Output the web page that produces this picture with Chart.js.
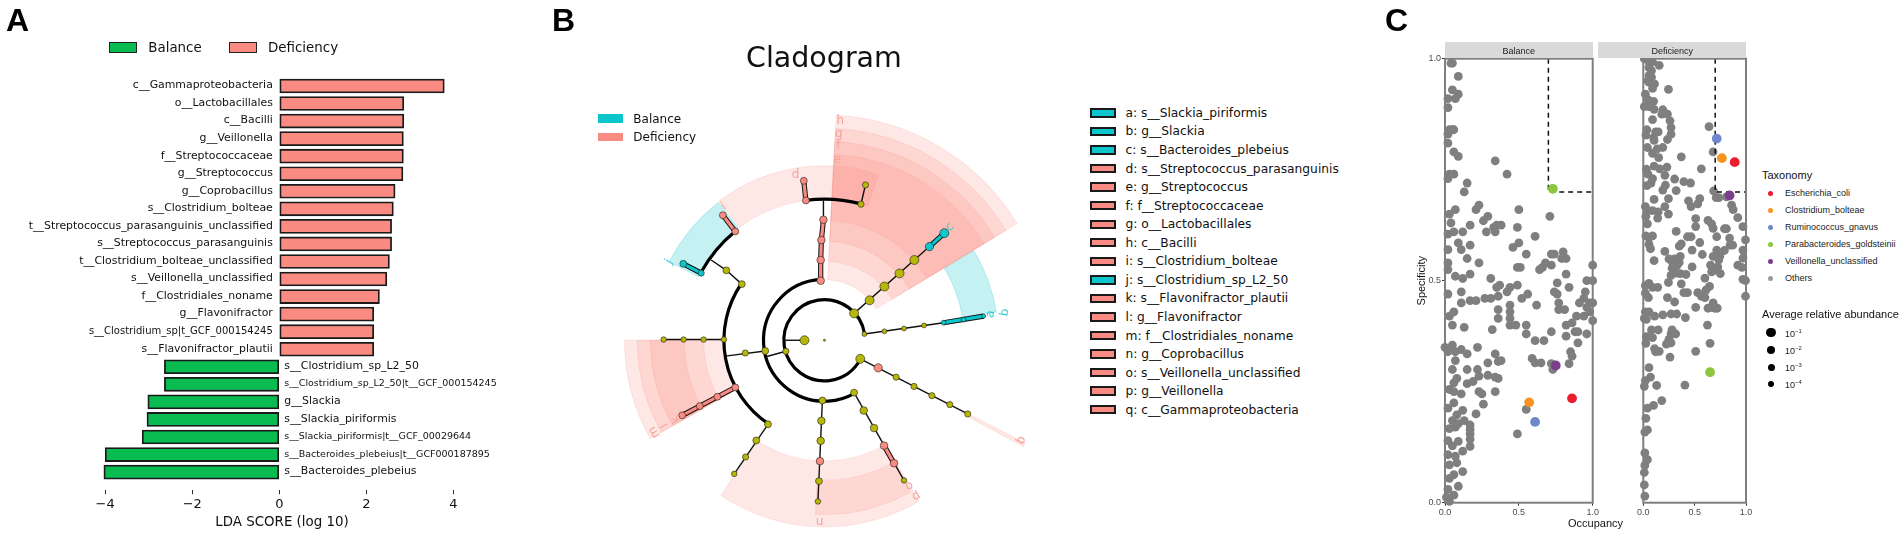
<!DOCTYPE html>
<html><head><meta charset="utf-8">
<script src="https://cdn.jsdelivr.net/npm/chart.js@4"></script>
<style>
html,body{margin:0;padding:0;background:#fff;width:1902px;height:540px;overflow:hidden}
canvas{position:absolute}
.t{position:absolute;white-space:nowrap;transform:translateY(-50%);color:#111}
.dj{font-family:"DejaVu Sans"}
.ls{font-family:"Liberation Sans"}
.panel{font:bold 32px "Liberation Sans";color:#000}
.box{position:absolute}
sup{font-size:65%;line-height:0;vertical-align:super}
</style></head><body>
<canvas id="a" width="564" height="540" style="left:0;top:0;width:564px;height:540px"></canvas>
<canvas id="b" width="540" height="540" style="left:540px;top:0;width:540px;height:540px"></canvas>
<canvas id="c1" width="200" height="540" style="left:1400px;top:0;width:200px;height:540px"></canvas>
<canvas id="c2" width="170" height="540" style="left:1590px;top:0;width:170px;height:540px"></canvas>
<div id="html"></div>
<script>
// ---------- Panel A data ----------
const deficiencyLabels = ["c__Gammaproteobacteria","o__Lactobacillales","c__Bacilli","g__Veillonella","f__Streptococcaceae","g__Streptococcus","g__Coprobacillus","s__Clostridium_bolteae","t__Streptococcus_parasanguinis_unclassified","s__Streptococcus_parasanguinis","t__Clostridium_bolteae_unclassified","s__Veillonella_unclassified","f__Clostridiales_noname","g__Flavonifractor","s__Clostridium_sp|t_GCF_000154245","s__Flavonifractor_plautii"];
const deficiencyScores = [3.79,2.86,2.86,2.85,2.85,2.84,2.66,2.62,2.58,2.58,2.53,2.47,2.30,2.17,2.17,2.17];
const balanceLabels = ["s__Clostridium_sp_L2_50","s__Clostridium_sp_L2_50|t__GCF_000154245","g__Slackia","s__Slackia_piriformis","s__Slackia_piriformis|t__GCF_00029644","s__Bacteroides_plebeius|t__GCF000187895","s__Bacteroides_plebeius"];
const balanceScores = [-2.64,-2.64,-3.02,-3.04,-3.15,-4.0,-4.03];
const ldaTicks = [-4,-2,0,2,4];

// ---------- Panel B data (cladogram read-off coordinates) ----------
const cladeCentre = [826,988];
const nodesNeutral = [[826,988,3],[768,988,13],[714,1020,9],[654,1019,10],[596,1025,9],[534,986,8],[475,986,8],[417,986,8],[359,986,8],[942,970,7],[1000,962,7],[1057,954,7],[1115,945,7],[912,910,13],[957,872,13],[1000,832,13],[1044,794,13],[1087,755,13],[930,1042,13],[1034,1095,9],[1086,1122,9],[1138,1149,9],[1190,1175,9],[1242,1202,9],[912,1140,10],[940,1192,11],[970,1243,11],[1057,1395,8],[820,1163,10],[817,1222,11],[815,1280,11],[810,1397,10],[807,1456,8],[662,1232,10],[628,1279,10],[597,1327,9],[564,1376,8],[586,825,10],[541,785,10],[932,593,9],[945,537,9]];
const nodesDeficiency = [[982,1068,12],[999,1294,11],[1028,1345,11],[813,1339,11],[815,815,11],[815,755,11],[817,697,11],[823,638,11],[772,582,10],[766,525,10],[567,672,10],[531,625,10],[567,1125,10],[515,1152,10],[464,1179,10],[413,1206,10]];
const nodesBalance = [[1172,937,7],[1230,928,7],[1288,918,6],[1131,716,12],[1174,677,13],[468,793,9],[416,766,10]];
const thinEdges = [[[768,988],[707,988]],[[714,1020],[656,1036]],[[654,1019],[538,1034]],[[534,986],[359,986]],[[942,970],[1172,937]],[[912,910],[1131,716]],[[930,1042],[1242,1202]],[[823,638],[823,582]],[[932,593],[945,537]],[[586,825],[541,785],[497,755]],[[912,1140],[1057,1395]],[[820,1163],[807,1456]],[[662,1232],[564,1376]]];
const deficiencyEdges = [[[815,815],[815,755],[817,697],[823,638]],[[772,582],[766,525]],[[567,672],[531,625]],[[567,1125],[413,1206]],[[999,1294],[1028,1345]]];
const balanceEdges = [[[1172,937],[1288,918]],[[1131,716],[1174,677]],[[468,793],[416,766]]];
const ringArcs = [[118,9,332],[177,93.6,299.5],[292,145.8,236],[410,75,97.6],[409,129.3,151.4]];
const balanceWedges = [[406,506,9.4,31],[410,505,127.5,153.2]];
const deficiencyWedges = [[176,654,31.2,87],[230,616,31.2,87],[288,578,31.2,87],[348,541,31.2,87],[410,507,72,127],[292,581,180,209.4],[351,544,180,209.4],[407,506,180,209.4],[351,542,236.3,300.4],[407,506,267,299.5],[478,655,331.9,332.9]];
const deficiencyLetters = [["h",872,350,0],["g",868,388,0],["f",866,425,0],["e",864,463,0],["d",742,508,0],["i",533,600,-35],["k",395,1217,-120],["l",362,1235,-120],["m",332,1255,-120],["n",812,1512,180],["o",1072,1410,150],["p",1092,1440,150],["q",1397,1278,120]];
const balanceLetters = [["a",1308,912,-80],["b",1350,907,-80],["c",1190,660,-45],["j",375,760,-60]];
const cladeKey = ["a: s__Slackia_piriformis","b: g__Slackia","c: s__Bacteroides_plebeius","d: s__Streptococcus_parasanguinis","e: g__Streptococcus","f: f__Streptococcaceae","g: o__Lactobacillales","h: c__Bacilli","i: s__Clostridium_bolteae","j: s__Clostridium_sp_L2_50","k: s__Flavonifractor_plautii","l: g__Flavonifractor","m: f__Clostridiales_noname","n: g__Coprobacillus","o: s__Veillonella_unclassified","p: g__Veillonella","q: c__Gammaproteobacteria"];
const cladeKeyBalance = ["a","b","c","j"];

// ---------- Panel C data: [occupancy, specificity] ----------
const balanceOthers = [[.04,.99],[.05,.99],[.09,.96],[.05,.93],[.09,.92],[.02,.91],[.07,.91],[.02,.89],[.05,.84],[.03,.84],[.06,.84],[.02,.83],[.02,.81],[.06,.79],[.09,.78],[.34,.77],[.42,.74],[.03,.74],[.06,.74],[.02,.73],[.15,.72],[.13,.70],[.23,.67],[.21,.66],[.07,.66],[.5,.66],[.03,.65],[.04,.63],[.29,.645],[.26,.635],[.71,.645],[.17,.625],[.12,.61],[.28,.61],[.33,.62],[.38,.625],[.35,.625],[.34,.61],[.49,.62],[.61,.60],[.02,.605],[.06,.61],[.09,.585],[.17,.58],[.11,.57],[.46,.575],[.5,.585],[.55,.56],[.72,.56],[.74,.56],[.8,.565],[.82,.55],[.79,.55],[.15,.55],[.23,.54],[.02,.54],[.02,.525],[.49,.53],[.51,.53],[.68,.54],[.66,.53],[.64,.525],[.72,.535],[1.0,.535],[.82,.515],[.07,.51],[.17,.515],[.12,.505],[.31,.505],[.37,.49],[.35,.485],[.49,.49],[.44,.485],[.42,.475],[.76,.495],[.84,.485],[.74,.475],[.76,.47],[.96,.50],[1.0,.5],[.11,.475],[.56,.47],[.52,.46],[.36,.465],[.31,.46],[.27,.46],[.21,.455],[.17,.455],[.11,.45],[.62,.445],[.44,.445],[.36,.435],[.77,.45],[.77,.435],[.81,.435],[.95,.475],[.94,.46],[.91,.45],[.98,.45],[1.0,.45],[.96,.44],[.98,.43],[.94,.42],[.89,.42],[.44,.43],[.36,.415],[.06,.43],[.03,.42],[.44,.415],[.05,.40],[.13,.395],[.44,.40],[.48,.40],[.55,.40],[.32,.39],[1.0,.41],[.86,.405],[.82,.40],[.55,.38],[.72,.385],[.88,.385],[.9,.385],[.96,.38],[.82,.375],[.67,.365],[.61,.365],[.9,.36],[.22,.35],[.05,.355],[0,.35],[.02,.34],[.07,.34],[.11,.345],[.15,.335],[.34,.335],[.85,.34],[.86,.33],[.59,.325],[.07,.32],[.38,.32],[.36,.318],[.29,.315],[.61,.315],[.65,.315],[.84,.313],[.72,.313],[.05,.3],[.15,.3],[.22,.3],[.73,.3],[.23,.285],[.29,.287],[.36,.28],[.34,.283],[.08,.28],[.06,.27],[.19,.273],[.15,.268],[.03,.255],[.11,.245],[.23,.25],[.25,.245],[.34,.25],[.06,.25],[.26,.222],[.06,.225],[.02,.213],[.55,.21],[.12,.208],[.08,.198],[.21,.20],[.05,.185],[.13,.185],[.09,.178],[.07,.17],[.03,.167],[.17,.175],[.17,.165],[.17,.155],[.49,.155],[.02,.14],[.09,.138],[.17,.143],[.05,.128],[.17,.127],[.12,.116],[.02,.108],[.07,.105],[.08,.09],[.03,.085],[.12,.07],[.06,.063],[.03,.055],[.09,.037],[.02,.03],[.06,.017],[.01,.012],[.03,.003],[.02,.57],[.02,.47]];
const deficiencyOthers = [[.01,1.0],[.055,.993],[.09,.993],[.155,.985],[.055,.98],[.08,.973],[.055,.962],[.08,.958],[.045,.95],[.11,.943],[.055,.947],[.09,.933],[.245,.931],[.02,.92],[.045,.908],[.1,.904],[.01,.892],[.055,.892],[.105,.886],[.19,.885],[.18,.875],[.235,.875],[.09,.863],[.26,.86],[.27,.845],[.64,.847],[.035,.84],[.12,.835],[.145,.835],[.025,.828],[.27,.83],[.1,.822],[.105,.816],[.235,.818],[.04,.80],[.19,.80],[.135,.797],[.09,.787],[.68,.79],[.15,.777],[.37,.779],[.03,.751],[.105,.758],[.16,.752],[.23,.756],[.565,.752],[.045,.74],[.21,.737],[.09,.73],[.305,.729],[.395,.723],[.075,.72],[.46,.72],[.215,.715],[.035,.714],[.19,.704],[.32,.703],[.685,.702],[.81,.689],[.71,.687],[.735,.687],[.105,.683],[.245,.685],[.55,.685],[.44,.68],[.53,.673],[.465,.667],[.86,.67],[.875,.66],[.02,.667],[.21,.667],[.045,.658],[.09,.658],[.145,.655],[.025,.645],[.245,.65],[.14,.641],[.92,.642],[.51,.64],[.63,.636],[.665,.628],[.04,.628],[.51,.622],[.97,.622],[.68,.618],[.32,.611],[.81,.617],[.79,.617],[.025,.601],[.09,.601],[.055,.597],[.43,.599],[.465,.599],[.715,.599],[.84,.596],[.995,.592],[.055,.582],[.37,.583],[.55,.586],[.35,.578],[.845,.58],[.87,.58],[.07,.572],[.475,.569],[.21,.566],[.715,.569],[.79,.568],[.97,.569],[.36,.555],[.575,.559],[.68,.555],[.25,.549],[.305,.549],[.745,.555],[.97,.551],[.105,.545],[.28,.543],[.35,.541],[.735,.547],[.33,.535],[.655,.535],[.475,.531],[.92,.535],[.96,.53],[.28,.528],[.725,.531],[.665,.52],[.7,.524],[.27,.512],[.325,.517],[.36,.516],[.415,.514],[.75,.516],[.6,.506],[.97,.503],[.995,.5],[.055,.494],[.02,.489],[.14,.485],[.09,.485],[.245,.496],[.37,.493],[.645,.487],[.61,.479],[.395,.473],[.43,.473],[.53,.473],[.565,.465],[.6,.462],[.995,.465],[.02,.472],[.05,.462],[.235,.462],[.305,.452],[.68,.45],[.51,.44],[.63,.438],[.66,.44],[.72,.438],[.695,.438],[.02,.43],[.055,.43],[.11,.42],[.19,.423],[.27,.425],[.325,.425],[.41,.417],[.01,.415],[.03,.413],[.625,.4],[.08,.389],[.145,.389],[.28,.389],[.315,.38],[.27,.38],[.03,.374],[.09,.372],[.25,.368],[.225,.357],[.27,.36],[.025,.359],[.65,.359],[.11,.347],[.155,.341],[.12,.34],[.51,.341],[.26,.328],[.055,.304],[.07,.283],[.02,.275],[.13,.264],[.405,.265],[.01,.262],[.18,.23],[.1,.219],[.04,.213],[.025,.19],[.04,.164],[.015,.159],[.015,.112],[.04,.097],[.015,.084],[.01,.068],[.01,.04],[.015,.015]];
const taxa = ["Escherichia_coli","Clostridium_bolteae","Ruminococcus_gnavus","Parabacteroides_goldsteinii","Veillonella_unclassified","Others"];
const taxaBalance = [[.86,.235],[.57,.226],[.61,.182],[.73,.707],[.75,.309]];
const taxaDeficiency = [[.89,.767],[.765,.776],[.715,.82],[.65,.294],[.84,.692]];
const occupancyCut = [[.7,1],[.7,.7],[1,.7]];
const abundanceTicks = ["-1","-2","-3","-4"];

// ---------- Styles ----------
const GREEN="#08BC52", SALMON="#FA8B82", CYAN="#0CC6CE", OLIVE="#B7B70A", GREY="#7F7F7F";
const TAXA_COLORS=["#EA1C2D","#F7931E","#6F88CC","#8CC63F","#7B3F8C"];
Chart.defaults.animation=false;
Chart.defaults.responsive=false;
Chart.defaults.plugins.legend.display=false;
Chart.defaults.plugins.tooltip.enabled=false;

// ---------- Panel A ----------
const nPos=deficiencyScores.length;
const barLabelPlugin={id:'barLabels',afterDatasetsDraw(ch){
  const c=ch.ctx,x=ch.scales.x,y=ch.scales.y;
  c.save();c.fillStyle="#111";c.textBaseline="middle";
  const draw=(s,i,px,al,f)=>{c.textAlign=al;c.font=f+' "DejaVu Sans"';c.fillText(s,px,y.getPixelForValue(i)-0.5);};
  deficiencyLabels.forEach((s,i)=>draw(s,i,x.getPixelForValue(0)-6.5,"right",s.includes("|")?"10px":"10.9px"));
  balanceLabels.forEach((s,i)=>draw(s,i+nPos,x.getPixelForValue(0)+5,"left",s.includes("|")?"9.5px":"10.9px"));
  c.restore();
}};
new Chart(document.getElementById('a'),{type:'bar',
 data:{labels:deficiencyLabels.concat(balanceLabels),datasets:[
  {label:"Deficiency",data:deficiencyScores.map((v,i)=>({x:v,y:i})),backgroundColor:SALMON,borderColor:"#1a1a1a",borderWidth:1.8,borderSkipped:false,barThickness:14,grouped:false},
  {label:"Balance",data:balanceScores.map((v,i)=>({x:v,y:i+nPos})),backgroundColor:GREEN,borderColor:"#1a1a1a",borderWidth:1.8,borderSkipped:false,barThickness:14,grouped:false}]},
 options:{indexAxis:'y',layout:{autoPadding:false,padding:{top:77.2,bottom:8,left:0,right:0}},
  scales:{
   y:{type:'linear',display:false,reverse:true,offset:false,grid:{offset:false},min:-.5,max:23.02},
   x:{type:'linear',min:-6.416,max:6.54,border:{display:false},
      afterBuildTicks(s){s.ticks=ldaTicks.map(v=>({value:v}));},
      afterFit(s){s.height=42;},
      grid:{drawOnChartArea:false,tickLength:4.3,tickColor:"#333",tickWidth:1},
      ticks:{padding:3,color:"#111",font:{family:"DejaVu Sans",size:13},maxRotation:0,callback:v=>String(v).replace("-","\u2212")},
      title:{display:true,text:"LDA SCORE (log 10)",color:"#111",font:{family:"DejaVu Sans",size:13.4},padding:{top:2,bottom:1}}}}},
 plugins:[barLabelPlugin]});

// ---------- Panel B ----------
const toPts=a=>a.map(p=>({x:p[0],y:p[1]}));
const cladeDecor={id:'cladeDecor',
 beforeDatasetsDraw(ch){
  const c=ch.ctx,X=ch.scales.x,Y=ch.scales.y;
  const k=X.getPixelForValue(1)-X.getPixelForValue(0);
  const cx=X.getPixelForValue(cladeCentre[0]),cy=Y.getPixelForValue(cladeCentre[1]);
  const rad=d=>-d*Math.PI/180;
  const wedge=(w,fill,line)=>{c.beginPath();c.arc(cx,cy,w[1]*k,rad(w[2]),rad(w[3]),true);c.arc(cx,cy,w[0]*k,rad(w[3]),rad(w[2]),false);c.closePath();c.fillStyle=fill;c.fill();c.strokeStyle=line;c.lineWidth=1;c.stroke();};
  c.save();
  balanceWedges.forEach(w=>wedge(w,"rgba(12,198,206,.24)","rgba(12,198,206,.22)"));
  deficiencyWedges.forEach(w=>wedge(w,"rgba(250,139,130,.2)","rgba(250,139,130,.18)"));
  c.strokeStyle="#000";c.lineWidth=3.2;c.lineCap="butt";
  ringArcs.forEach(a=>{c.beginPath();c.arc(cx,cy,a[0]*k,rad(a[1]),rad(a[2]),true);c.stroke();});
  c.restore();
 },
 afterDatasetsDraw(ch){
  const c=ch.ctx,X=ch.scales.x,Y=ch.scales.y;
  c.save();c.textAlign="center";c.textBaseline="middle";c.font='12px "DejaVu Sans"';
  const put=(l,col)=>{c.save();c.translate(X.getPixelForValue(l[1]),Y.getPixelForValue(l[2]));c.rotate(l[3]*Math.PI/180);c.fillStyle=col;c.fillText(l[0],0,0);c.restore();};
  deficiencyLetters.forEach(l=>put(l,"#F6A29B"));
  balanceLetters.forEach(l=>put(l,"#35CBD0"));
  c.restore();
 }};
const lineDs=(pts,col,w,order)=>({type:'line',data:toPts(pts),borderColor:col,borderWidth:w,pointRadius:0,order,tension:0,fill:false,parsing:true});
const nodeDs=(nodes,col,order)=>({type:'scatter',data:nodes.map(n=>({x:n[0],y:n[1]})),backgroundColor:col,borderColor:"rgba(30,30,20,.75)",borderWidth:.8,pointRadius:nodes.map(n=>n[2]/2.9),order});
new Chart(document.getElementById('b'),{type:'scatter',
 data:{datasets:[
  ...deficiencyEdges.map(e=>lineDs(e,"#111",5.2,6)),
  ...balanceEdges.map(e=>lineDs(e,"#111",5.2,6)),
  ...thinEdges.map(e=>lineDs(e,"#111",1.4,7)),
  ...deficiencyEdges.map(e=>lineDs(e,SALMON,3.2,5)),
  ...balanceEdges.map(e=>lineDs(e,CYAN,3.2,5)),
  nodeDs(nodesNeutral,OLIVE,1),nodeDs(nodesDeficiency,SALMON,1),nodeDs(nodesBalance,CYAN,1)]},
 options:{layout:{autoPadding:false,padding:0},
  scales:{x:{type:'linear',display:false,min:0,max:1568},y:{type:'linear',display:false,min:0,max:1568,reverse:true}}},
 plugins:[cladeDecor]});

// ---------- Panel C ----------
const frame={id:'frame',afterDatasetsDraw(ch){const a=ch.chartArea,c=ch.ctx;c.save();c.strokeStyle=GREY;c.lineWidth=2;c.strokeRect(a.left,a.top,a.right-a.left,a.bottom-a.top);c.restore();}};
function facet(id,others,taxaPts,showY,pad){
 const ds=[
  {data:toPts(taxaPts),backgroundColor:TAXA_COLORS,pointRadius:4.9,borderWidth:0,order:1,clip:false},
  {type:'line',data:toPts(occupancyCut),borderColor:"#111",borderWidth:1.5,borderDash:[5,4],pointRadius:0,order:2,clip:false,tension:0},
  {data:toPts(others),backgroundColor:GREY,pointRadius:4.4,borderWidth:0,order:3,clip:false}];
 new Chart(document.getElementById(id),{type:'scatter',data:{datasets:ds},
  options:{layout:{autoPadding:false,padding:pad},
   scales:{
    x:{type:'linear',min:0,max:1,border:{display:false},afterFit(s){s.height=37.3;},
       grid:{drawOnChartArea:false,tickLength:3,tickColor:"#333"},
       ticks:{stepSize:.5,maxRotation:0,padding:1,color:"#4d4d4d",font:{family:"Liberation Sans",size:9},callback:v=>v.toFixed(1)}},
    y:{type:'linear',min:0,max:1,display:showY,border:{display:false},afterFit(s){s.width=45;},
       grid:{drawOnChartArea:false,tickLength:3,tickColor:"#333"},
       ticks:{stepSize:.5,padding:1,color:"#4d4d4d",font:{family:"Liberation Sans",size:9},callback:v=>v.toFixed(1)},
       title:{display:true,text:"Specificity",color:"#111",font:{family:"Liberation Sans",size:11},padding:{top:15,bottom:0}}}}},
  plugins:[frame]});
}
facet('c1',balanceOthers,taxaBalance,true,{top:58.7,bottom:0,left:0,right:7.3});
facet('c2',deficiencyOthers,taxaDeficiency,false,{top:58.7,bottom:0,left:8.3,right:14});

// ---------- Text and keys ----------
const H=document.getElementById('html');
function text(s,x,y,cls,style){const d=document.createElement('div');d.className='t '+cls;d.innerHTML=s;d.style.left=x+'px';d.style.top=y+'px';if(style)d.style.cssText+=';'+style;H.appendChild(d);return d;}
function box(x,y,w,h,bg,border,radius){const d=document.createElement('div');d.className='box';d.style.cssText=`left:${x}px;top:${y}px;width:${w}px;height:${h}px;background:${bg};box-sizing:border-box;${border?'border:'+border+';':''}${radius?'border-radius:50%;':''}`;H.appendChild(d);}
text("A",6,20,"panel");text("B",552,20,"panel");text("C",1385,20,"panel");
box(109.3,42.3,28,10.4,GREEN,"1.5px solid #222");text("Balance",148.3,47.3,"dj","font-size:13.4px");
box(229,42.3,28,10.4,SALMON,"1.5px solid #222");text("Deficiency",268,47.3,"dj","font-size:13.4px");
text("Cladogram",746,56.8,"dj","font-size:28.5px");
box(597.8,114.3,24.8,9,CYAN);text("Balance",633.3,118.8,"dj","font-size:12px");
box(597.8,132.6,24.8,8.8,SALMON);text("Deficiency",633.3,136.7,"dj","font-size:12px");
cladeKey.forEach((s,i)=>{const y=112.9+i*18.55;box(1090,y-4.7,26,9.4,cladeKeyBalance.includes(s[0])?CYAN:SALMON,"2px solid #1a1a1a");text(s,1125.5,y,"dj","font-size:12.25px");});
box(1445,42,147.7,16.3,"#D9D9D9");box(1598.3,42,147.7,16.3,"#D9D9D9");
text("Balance",1518.8,50.7,"ls","font-size:9px;transform:translate(-50%,-50%);color:#222");
text("Deficiency",1672.2,50.7,"ls","font-size:9px;transform:translate(-50%,-50%);color:#222");
text("Occupancy",1595.5,523.3,"ls","font-size:11px;transform:translate(-50%,-50%)");
text("Taxonomy",1762,174.6,"ls","font-size:11px");
taxa.forEach((s,i)=>{const y=193.2+i*17.05;box(1768,y-2.7,5.4,5.4,i<5?TAXA_COLORS[i]:"#999",null,true);text(s,1785,y,"ls","font-size:9px;color:#222");});
text("Average relative abundance",1762,314,"ls","font-size:11px");
abundanceTicks.forEach((s,i)=>{const y=332.6+i*17.2,r=4.6-i*.55;box(1771-r,y-r,2*r,2*r,"#000",null,true);text("10<sup>\u2212"+s.slice(1)+"</sup>",1785,y+1,"ls","font-size:9px;color:#222");});
</script>
</body></html>
